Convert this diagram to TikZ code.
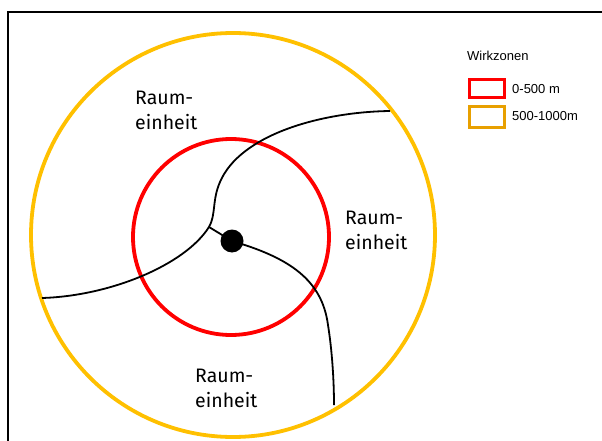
\documentclass[tikz,border=0pt]{standalone}
\usepackage{fontspec}
\setmainfont{Fira Sans}
\newfontfamily\legendfont{Liberation Sans}
\definecolor{zoneorange}{HTML}{FFC000}
\definecolor{boxorange}{HTML}{E8A000}
\definecolor{zonered}{HTML}{FF0000}
\begin{document}
\begin{tikzpicture}[x=1pt,y=-1pt,
  zone/.style={line width=3.8pt},
  road/.style={line width=1.8pt,black},
  region/.style={align=left,anchor=base west,inner sep=0pt,font=\fontsize{19.5}{24.5}\selectfont},
  legtext/.style={anchor=base west,inner sep=0pt,font=\legendfont\fontsize{13}{15}\selectfont},
  legbox/.style={line width=3pt,minimum width=35pt,minimum height=18pt,inner sep=0pt,anchor=north west}]
\useasboundingbox (0,0) rectangle (602,441);
% frame
\draw[line width=1.6pt] (8,441) -- (8,12) -- (602,12);
% zones
\draw[zone,zoneorange] (233,235) circle (202);
\draw[zone,zonered] (231,237) circle (98);
% points
\coordinate (w) at (42,298);
\coordinate (j) at (209,227);
\coordinate (k) at (220,182);
\coordinate (ne) at (390,111);
\coordinate (m) at (328,325);
\coordinate (s) at (334,405);
\node[circle,fill=black,minimum size=23pt,inner sep=0pt] (dot) at (232,241) {};
% roads
\draw[road] (w) .. controls (110,296) and (185,265) .. (j)
  .. controls (216,215) and (212,200) .. (k)
  .. controls (240,135) and (320,112) .. (ne);
\draw[road] (j) -- (dot.center);
\draw[road] (dot.center) .. controls (290,258) and (322,280) .. (m)
  .. controls (332,350) and (334,380) .. (s);
% labels
\node[region] (r1) at (135,129) {Raum-\\einheit};
\node[region] (r2) at (345,249) {Raum-\\einheit};
\node[region] (r3) at (195,407) {Raum-\\einheit};
% legend
\node[legtext] (lt) at (467,61) {Wirkzonen};
\node[legbox,draw=zonered] (b1) at (468,78) {};
\node[legbox,draw=boxorange,minimum height=21pt] (b2) at (468,105) {};
\node[legtext] (l1) at (512,94) {0-500 m};
\node[legtext] (l2) at (512,121) {500-1000m};
\end{tikzpicture}
\end{document}
